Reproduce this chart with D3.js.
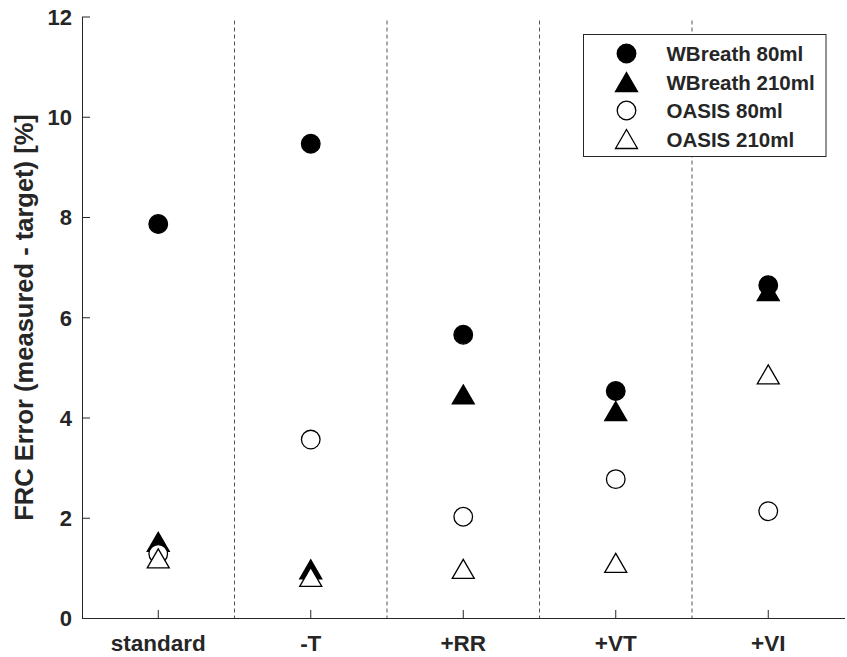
<!DOCTYPE html>
<html>
<head>
<meta charset="utf-8">
<script src="https://cdn.jsdelivr.net/npm/d3@7"></script>
<style>
  body { margin: 0; background: #fff; }
  text { font-family: "Liberation Sans", Arial, sans-serif; font-weight: bold; fill: #262626; }
</style>
</head>
<body>
<svg id="chart" width="847" height="657"></svg>
<script>
// data
var categories = ['standard', '-T', '+RR', '+VT', '+VI'];
var wbreath80  = [7.86, 9.46, 5.65, 4.53, 6.64];
var wbreath210 = [1.52, 0.97, 4.46, 4.13, 6.52];
var oasis80    = [1.28, 3.56, 2.02, 2.77, 2.13];
var oasis210   = [1.19, 0.82, 0.98, 1.10, 4.86];
var yTicks = [0, 2, 4, 6, 8, 10, 12];

var series = [
    {name: 'WBreath 80ml',  values: wbreath80,  shape: 'circle',   filled: true},
    {name: 'WBreath 210ml', values: wbreath210, shape: 'triangle', filled: true},
    {name: 'OASIS 80ml',    values: oasis80,    shape: 'circle',   filled: false},
    {name: 'OASIS 210ml',   values: oasis210,   shape: 'triangle', filled: false}
];

var svg = d3.select('#chart');
var plotLeft = 82, plotRight = 844.5, plotTop = 16.5, plotBottom = 618;
var axisColor = '#262626';

var x = d3.scaleBand().domain(categories).range([plotLeft, plotRight]).padding(0);
var y = d3.scaleLinear().domain([0, 12]).range([plotBottom, plotTop]);

// marker path builder
function markerPath(shape){
    if(shape === 'circle') return d3.symbol().type(d3.symbolCircle).size(Math.PI * 9.3 * 9.3)();
    var w = 22, h = 19;
    return 'M0,' + (-h/2) + 'L' + (w/2) + ',' + (h/2) + 'L' + (-w/2) + ',' + (h/2) + 'Z';
}

// dashed separators between groups
svg.append('g').selectAll('line')
   .data(categories.slice(1))
   .enter().append('line')
   .attr('x1', d => x(d)).attr('x2', d => x(d))
   .attr('y1', y(11.92)).attr('y2', y(0))
   .attr('stroke', '#555').attr('stroke-width', 1)
   .attr('stroke-dasharray', '4,3');

// y axis
var yAxis = d3.axisLeft(y).tickValues(yTicks).tickSize(-8).tickPadding(10).tickSizeOuter(0);
var gy = svg.append('g').attr('transform', 'translate(' + plotLeft + ',0)').call(yAxis);
gy.select('.domain').attr('stroke', axisColor);
gy.selectAll('.tick line').attr('stroke', axisColor);
gy.selectAll('.tick text').style('font-size', '22px').attr('dy', '0.36em');

// x axis
var xAxis = d3.axisBottom(x).tickSize(-8).tickPadding(17).tickSizeOuter(0);
var gx = svg.append('g').attr('transform', 'translate(0,' + plotBottom + ')').call(xAxis);
gx.select('.domain').attr('stroke', axisColor);
gx.selectAll('.tick line').attr('stroke', axisColor);
gx.selectAll('.tick text').style('font-size', '22.5px').attr('dy', '0.71em');

// y label
svg.append('text')
   .attr('transform', 'translate(33,317.5) rotate(-90)')
   .attr('text-anchor', 'middle')
   .style('font-size', '25.5px')
   .text('FRC Error (measured - target) [%]');

// points
series.forEach(function(s){
    svg.append('g').selectAll('path')
       .data(s.values)
       .enter().append('path')
       .attr('d', markerPath(s.shape))
       .attr('transform', (v, i) => 'translate(' + (x(categories[i]) + x.bandwidth()/2) + ',' + y(v) + ')')
       .attr('fill', s.filled ? '#000' : '#fff')
       .attr('stroke', '#000').attr('stroke-width', 1.3);
});

// legend
var lg = svg.append('g').attr('transform', 'translate(583.5,34.5)');
lg.append('rect').attr('width', 242.5).attr('height', 122)
  .attr('fill', '#fff').attr('stroke', axisColor).attr('stroke-width', 1);
var rows = lg.selectAll('g.row').data(series).enter().append('g')
  .attr('class', 'row')
  .attr('transform', (d, i) => 'translate(0,' + (19 + i * 28.5) + ')');
rows.append('path')
  .attr('d', d => markerPath(d.shape))
  .attr('transform', 'translate(43,0)')
  .attr('fill', d => d.filled ? '#000' : '#fff')
  .attr('stroke', '#000').attr('stroke-width', 1.3);
rows.append('text')
  .attr('x', 83).attr('y', 7.5)
  .style('font-size', '20.5px')
  .text(d => d.name);
</script>
</body>
</html>
